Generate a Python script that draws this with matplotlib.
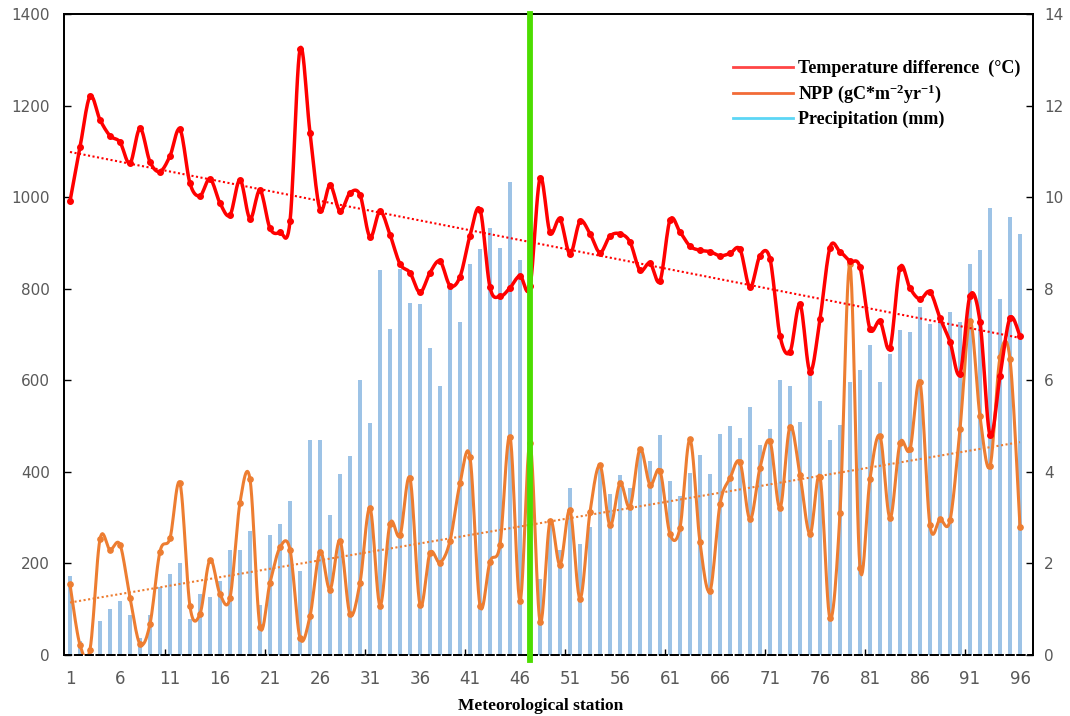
import numpy as np
import matplotlib
matplotlib.use('Agg')
import matplotlib.pyplot as plt
from matplotlib.lines import Line2D

stations = np.arange(1, 97)

precip = [172, 30, 12, 75, 101, 117, 88, 37, 88, 148,
          177, 201, 79, 133, 126, 162, 229, 229, 271, 110,
          263, 287, 336, 183, 470, 470, 306, 396, 435, 600,
          506, 840, 713, 844, 768, 766, 671, 588, 803, 727,
          854, 886, 932, 890, 1033, 863, 450, 165, 292, 229,
          364, 243, 280, 407, 352, 393, 364, 453, 423, 481,
          379, 347, 398, 436, 395, 482, 501, 473, 542, 458,
          494, 600, 588, 508, 611, 554, 470, 503, 596, 623,
          678, 596, 658, 709, 705, 760, 722, 733, 749, 728,
          853, 884, 976, 777, 957, 920]

npp = [154, 22, 12, 253, 230, 241, 125, 24, 68, 226,
       255, 375, 106, 90, 208, 133, 125, 333, 384, 62,
       158, 235, 230, 37, 85, 226, 143, 250, 89, 158,
       321, 108, 287, 261, 386, 110, 223, 202, 249, 375,
       432, 108, 204, 241, 477, 118, 463, 73, 292, 197,
       316, 123, 312, 414, 283, 375, 324, 450, 372, 402,
       264, 278, 471, 246, 140, 329, 386, 421, 296, 409,
       467, 321, 499, 393, 264, 389, 80, 310, 853, 191,
       385, 478, 299, 463, 449, 596, 283, 296, 294, 494,
       730, 521, 412, 650, 646, 280]

temp = [9.91, 11.09, 12.20, 11.69, 11.34, 11.20, 10.74, 11.50, 10.77, 10.56,
        10.90, 11.48, 10.30, 10.03, 10.40, 9.87, 9.61, 10.38, 9.53, 10.15,
        9.32, 9.23, 9.47, 13.23, 11.41, 9.73, 10.26, 9.70, 10.09, 10.05,
        9.13, 9.69, 9.18, 8.54, 8.35, 7.92, 8.35, 8.60, 8.07, 8.26,
        9.16, 9.73, 8.03, 7.83, 8.02, 8.28, 8.05, 10.41, 9.23, 9.52,
        8.76, 9.47, 9.20, 8.79, 9.15, 9.20, 9.02, 8.40, 8.56, 8.17,
        9.50, 9.24, 8.93, 8.84, 8.81, 8.72, 8.77, 8.86, 8.03, 8.72,
        8.65, 6.97, 6.62, 7.66, 6.19, 7.34, 8.90, 8.81, 8.60, 8.47,
        7.12, 7.29, 6.71, 8.46, 8.01, 7.77, 7.93, 7.36, 6.84, 6.14,
        7.85, 7.28, 4.80, 6.09, 7.36, 6.96]

xtick_vals = list(range(1, 97, 5))
left_ticks = list(range(0, 1401, 200))
right_ticks = list(range(0, 15, 2))
split_station = 47

legend_labels = ["Temperature difference  (\u00b0C)",
                 r"NPP (gC*m$^{\mathbf{-2}}$yr$^{\mathbf{-1}}$)",
                 "Precipitation (mm)"]


def smooth(x, y, n=12):
    P = np.column_stack([np.asarray(x, float), np.asarray(y, float)])
    out = [P[0]]
    t = np.linspace(0, 1, n + 1)[1:, None]
    for i in range(len(P) - 1):
        p0 = P[i - 1] if i > 0 else P[i]
        p1, p2 = P[i], P[i + 1]
        p3 = P[i + 2] if i + 2 < len(P) else P[i + 1]
        c1 = p1 + (p2 - p0) / 6
        c2 = p2 - (p3 - p1) / 6
        seg = (1 - t) ** 3 * p1 + 3 * (1 - t) ** 2 * t * c1 + 3 * (1 - t) * t ** 2 * c2 + t ** 3 * p2
        out.extend(seg)
    out = np.array(out)
    return out[:, 0], out[:, 1]


plt.rcParams['mathtext.fontset'] = 'custom'
plt.rcParams['mathtext.rm'] = 'Liberation Serif:bold'
plt.rcParams['mathtext.bf'] = 'Liberation Serif:bold'
plt.rcParams['mathtext.it'] = 'Liberation Serif:bold'

fig = plt.figure(figsize=(10.7, 7.16), dpi=100)
W, H = 1070, 716
ax = fig.add_axes([64 / W, 1 - 655 / H, (1033 - 64) / W, (655 - 14) / H])
ax.set_xlim(0.4, 97.3)
ax.set_ylim(0, 1400)

red = '#FF0000'
orange = '#ED7D31'

ax.bar(stations, precip, width=0.38, color='#9DC3E6', zorder=1)

xs, ys = smooth(stations, npp)
ax.plot(xs, ys, color=orange, lw=2.2, zorder=3)
ax.plot(stations, npp, 'o', ms=3.8, color=orange, zorder=3)
c = np.polyfit(stations, npp, 1)
ax.plot([1, 96], np.polyval(c, [1, 96]), ls=(0, (1, 1.2)), color=orange, lw=1.5, zorder=2)

ax2 = ax.twinx()
ax2.set_ylim(0, 14)
xs, ys = smooth(stations, temp)
ax2.plot(xs, ys, color=red, lw=2.5, zorder=3)
ax2.plot(stations, temp, 'o', ms=4, color=red, zorder=3)
c = np.polyfit(stations, temp, 1)
ax2.plot([1, 96], np.polyval(c, [1, 96]), ls=(0, (1, 1.2)), color=red, lw=1.5, zorder=2)

ax2.axvline(split_station, ymin=-0.008, ymax=1.0, color='#4CDD00', lw=4.2, clip_on=False, zorder=10)

# axes styling
for a in (ax, ax2):
    for s in a.spines.values():
        s.set_color('black')
        s.set_linewidth(1.3)
ax.spines['bottom'].set_linestyle((0, (4, 2)))
ax2.spines['bottom'].set_linestyle((0, (4, 2)))

ax.set_yticks(left_ticks)
ax.tick_params(axis='y', direction='in', length=5, width=1, labelsize=11, labelcolor='#595959', pad=10)
ax2.set_yticks(right_ticks)
ax2.tick_params(axis='y', direction='in', length=5, width=1, labelsize=11, labelcolor='#595959', pad=8)
for lab in ax.get_yticklabels() + ax2.get_yticklabels():
    lab.set_family('DejaVu Sans')

ax.set_xticks(xtick_vals)
ax.set_xticklabels([str(v) for v in xtick_vals])
ax.set_xticks(np.arange(10.5, 96, 10), minor=True)
ax.tick_params(axis='x', which='major', length=0, pad=11, labelsize=12, labelcolor='#595959')
ax.tick_params(axis='x', which='minor', direction='in', length=4, width=1)
for lab in ax.get_xticklabels():
    lab.set_family(['Liberation Sans Narrow', 'DejaVu Sans'])

fig.text(541 / W, 1 - 706 / H, 'Meteorological station', ha='center', va='center',
         family='Liberation Serif', weight='bold', fontsize=12.5)

handles = [Line2D([], [], color='#FF4545', lw=2),
           Line2D([], [], color='#F26B38', lw=2),
           Line2D([], [], color='#5CD6F5', lw=2)]
leg = fig.legend(handles, legend_labels, loc='upper left', bbox_to_anchor=(733 / W, 1 - 60 / H),
                 frameon=False, handlelength=3.3, handletextpad=0.3, labelspacing=0.3,
                 borderpad=0, borderaxespad=0,
                 prop={'family': 'Liberation Serif', 'weight': 'bold', 'size': 13})

fig.savefig('out.png', dpi=100)
